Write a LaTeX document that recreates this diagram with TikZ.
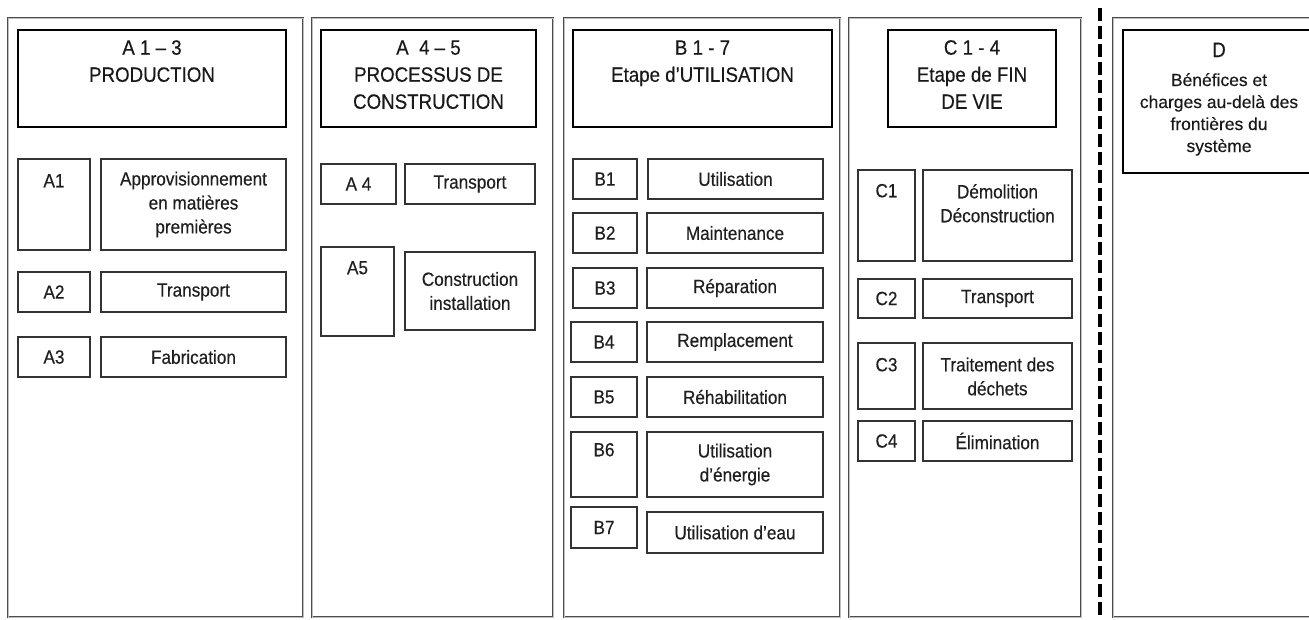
\documentclass[tikz,border=0pt]{standalone}
\usepackage{fontspec}
\setmainfont{Liberation Sans}[FakeBold=0.3]
\newfontfamily\narrowf{Liberation Sans}[FakeStretch=0.9,FakeBold=0.35]
\usetikzlibrary{fit,calc}
\begin{document}
\begin{tikzpicture}[x=0.75pt,y=-0.75pt,
  panel/.style={draw=black!70, line width=0.55pt, double=black!25, double distance=0.5pt, inner sep=0pt},
  head/.style={draw=black, line width=1.8pt, inner sep=0pt},
  sub/.style={draw=black!80, line width=1.1pt, inner sep=0pt},
  htxt/.style={font=\narrowf\fontsize{15.6}{20.3}\selectfont, align=center, anchor=base, inner sep=0pt, text=black!90},
  dtxt/.style={font=\fontsize{13.1}{16.5}\selectfont, align=center, anchor=base, inner sep=0pt, text=black!90},
  stxt/.style={font=\narrowf\fontsize{14.3}{18}\selectfont, align=center, inner sep=0pt, text=black!88},
  ttxt/.style={stxt, anchor=base},
  sep/.style={draw=black, line width=2.4pt, dash pattern=on 9.75pt off 3.75pt}
]
\clip (0,0) rectangle (1309,619);
\fill[white] (0,0) rectangle (1309,619);

% panels
\node[panel, fit={(8,18) (303,617)}] (PA) {};
\node[panel, fit={(312,18) (553,617)}] (PAB) {};
\node[panel, fit={(564,18) (840,617)}] (PB) {};
\node[panel, fit={(849,18) (1081,617)}] (PC) {};
\node[panel, fit={(1113,18) (1330,617)}] (PD) {};

% separator
\coordinate (s1) at (1100,8);
\coordinate (s2) at (1100,625);
\draw[sep] (s1) -- (s2);

% headers (anchor = baseline of the last line)
\node[head, fit={(18,30) (286,127)}] (HA) {};
\node[htxt] (HAt) at ($(HA.north)+(0,53)$) {A 1 – 3\\PRODUCTION};
\node[head, fit={(321,30) (536,127)}] (HAB) {};
\node[htxt] (HABt) at ($(HAB.north)+(0,80)$) {A\ \ 4 – 5\\PROCESSUS DE\\CONSTRUCTION};
\node[head, fit={(573,30) (832,127)}] (HB) {};
\node[htxt] (HBt) at ($(HB.north)+(0,53)$) {B 1 - 7\\Etape d’UTILISATION};
\node[head, fit={(888,30) (1056,127)}] (HC) {};
\node[htxt] (HCt) at ($(HC.north)+(0,80)$) {C 1 - 4\\Etape de FIN\\DE VIE};
\node[head, fit={(1123,30) (1330,173)}] (HD) {};
\node[htxt] (HDl) at (1219,57) {D};
\node[dtxt] (HDt) at (1219,152) {Bénéfices et\\charges au-delà des\\frontières du\\système};

% A 1-3
\node[sub, fit={(18,159) (90,250)}] (A1c) {};
\node[ttxt] at ($(A1c.north)+(0,29)$) {A1};
\node[sub, fit={(101,159) (286,250)}] (A1t) {};
\node[stxt] at (A1t.center) {Approvisionnement\\en matières\\premières};
\node[sub, fit={(18,272) (90,312)}] (A2c) {};
\node[stxt] at (A2c.center) {A2};
\node[sub, fit={(101,272) (286,312)}] (A2t) {};
\node[stxt] at (A2t.center) {Transport};
\node[sub, fit={(18,337) (90,377)}] (A3c) {};
\node[stxt] at (A3c.center) {A3};
\node[sub, fit={(101,337) (286,377)}] (A3t) {};
\node[stxt] at (A3t.center) {Fabrication};

% A 4-5
\node[sub, fit={(321,164) (396,204)}] (A4c) {};
\node[stxt] at (A4c.center) {A 4};
\node[sub, fit={(405,164) (535,204)}] (A4t) {};
\node[stxt] at (A4t.center) {Transport};
\node[sub, fit={(321,247) (394,336)}] (A5c) {};
\node[ttxt] at ($(A5c.north)+(0,28)$) {A5};
\node[sub, fit={(405,252) (535,330)}] (A5t) {};
\node[stxt] at (A5t.center) {Construction\\installation};

% B 1-7
\node[sub, fit={(573,159) (637,199)}] (B1c) {};
\node[stxt] at (B1c.center) {B1};
\node[sub, fit={(648,159) (823,199)}] (B1t) {};
\node[stxt] at (B1t.center) {Utilisation};
\node[sub, fit={(573,213) (637,253)}] (B2c) {};
\node[stxt] at (B2c.center) {B2};
\node[sub, fit={(647,213) (823,253)}] (B2t) {};
\node[stxt] at (B2t.center) {Maintenance};
\node[sub, fit={(573,268) (637,308)}] (B3c) {};
\node[stxt] at (B3c.center) {B3};
\node[sub, fit={(647,268) (823,308)}] (B3t) {};
\node[stxt] at (B3t.center) {Réparation};
\node[sub, fit={(571,322) (637,362)}] (B4c) {};
\node[stxt] at (B4c.center) {B4};
\node[sub, fit={(647,322) (823,362)}] (B4t) {};
\node[stxt] at (B4t.center) {Remplacement};
\node[sub, fit={(571,377) (637,417)}] (B5c) {};
\node[stxt] at (B5c.center) {B5};
\node[sub, fit={(647,377) (823,417)}] (B5t) {};
\node[stxt] at (B5t.center) {Réhabilitation};
\node[sub, fit={(571,432) (637,497)}] (B6c) {};
\node[ttxt] at ($(B6c.north)+(0,25)$) {B6};
\node[sub, fit={(647,432) (823,497)}] (B6t) {};
\node[stxt] at (B6t.center) {Utilisation\\d’énergie};
\node[sub, fit={(571,507) (637,548)}] (B7c) {};
\node[stxt] at (B7c.center) {B7};
\node[sub, fit={(647,512) (823,553)}] (B7t) {};
\node[stxt] at (B7t.center) {Utilisation d’eau};

% C 1-4
\node[sub, fit={(858,170) (915,261)}] (C1c) {};
\node[ttxt] at ($(C1c.north)+(0,28)$) {C1};
\node[sub, fit={(923,170) (1072,261)}] (C1t) {};
\node[ttxt] at ($(C1t.north)+(0,53)$) {Démolition\\Déconstruction};
\node[sub, fit={(858,279) (915,318)}] (C2c) {};
\node[stxt] at (C2c.center) {C2};
\node[sub, fit={(923,279) (1072,318)}] (C2t) {};
\node[stxt] at (C2t.center) {Transport};
\node[sub, fit={(858,343) (915,409)}] (C3c) {};
\node[ttxt] at ($(C3c.north)+(0,29)$) {C3};
\node[sub, fit={(923,343) (1072,409)}] (C3t) {};
\node[ttxt] at ($(C3t.north)+(0,53)$) {Traitement des\\déchets};
\node[sub, fit={(858,421) (915,461)}] (C4c) {};
\node[stxt] at (C4c.center) {C4};
\node[sub, fit={(923,421) (1072,461)}] (C4t) {};
\node[stxt] at (C4t.center) {Élimination};
\end{tikzpicture}
\end{document}
